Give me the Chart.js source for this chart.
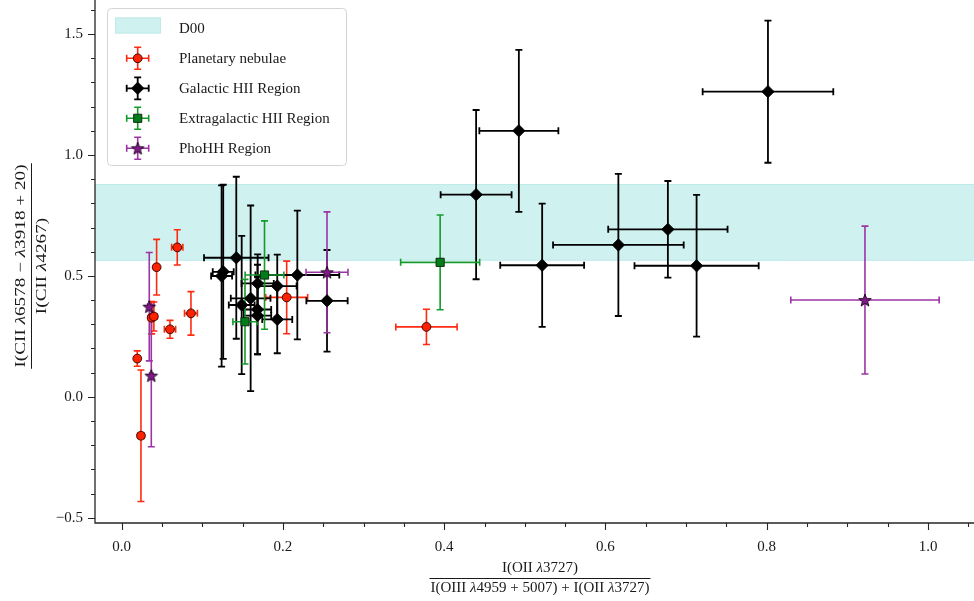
<!DOCTYPE html>
<html><head><meta charset="utf-8">
<script src="https://cdn.jsdelivr.net/npm/chart.js@4.4.0/dist/chart.umd.min.js"></script>
<style>html,body{margin:0;padding:0;background:#fff;overflow:hidden}#wrap{width:974px;height:601px;position:relative}</style>
</head><body><div id="wrap"><canvas id="c" width="974" height="601"></canvas></div>
<script>
// ---------------- data ----------------
const xTicks = [0.0, 0.2, 0.4, 0.6, 0.8, 1.0];
const xMinorTicks = [0.05, 0.1, 0.15, 0.25, 0.3, 0.35, 0.45, 0.5, 0.55, 0.65, 0.7, 0.75, 0.85, 0.9, 0.95, 1.05];
const yTicks = [-0.5, 0.0, 0.5, 1.0, 1.5];
const yMinorTicks = [-0.4, -0.3, -0.2, -0.1, 0.1, 0.2, 0.3, 0.4, 0.6, 0.7, 0.8, 0.9, 1.1, 1.2, 1.3, 1.4, 1.6];

const d00Band = [0.563, 0.88];

const pnX    = [0.378, 0.069, 0.0434, 0.0372, 0.040, 0.060, 0.086, 0.0194, 0.024, 0.2047];
const pnY    = [0.289, 0.618, 0.536, 0.327, 0.332, 0.279, 0.345, 0.158, -0.161, 0.411];
const pnXErr = [0.038, 0.007, 0.003, 0.004, 0.004, 0.007, 0.008, 0.003, 0.004, 0.026];
const pnYErr = [0.073, 0.073, 0.115, 0.067, 0.060, 0.037, 0.090, 0.032, 0.272, 0.150];

const ghX    = [0.4926, 0.4396, 0.8015, 0.5215, 0.616, 0.6774, 0.713, 0.1422, 0.126, 0.124, 0.1687, 0.193, 0.2179, 0.160, 0.1489, 0.1685, 0.1685, 0.193, 0.2547];
const ghY    = [1.100, 0.836, 1.262, 0.544, 0.628, 0.6925, 0.542, 0.575, 0.517, 0.4995, 0.469, 0.458, 0.5036, 0.407, 0.3796, 0.361, 0.336, 0.320, 0.397];
const ghXErr = [0.049, 0.044, 0.081, 0.052, 0.081, 0.074, 0.077, 0.040, 0.013, 0.013, 0.020, 0.024, 0.052, 0.0246, 0.016, 0.017, 0.017, 0.0186, 0.0256];
const ghYErr = [0.335, 0.350, 0.294, 0.255, 0.294, 0.200, 0.293, 0.335, 0.360, 0.375, 0.120, 0.130, 0.266, 0.384, 0.286, 0.185, 0.160, 0.140, 0.210];

const ehX    = [0.395, 0.1772, 0.153];
const ehY    = [0.556, 0.5036, 0.3105];
const ehXErr = [0.049, 0.024, 0.015];
const ehYErr = [0.196, 0.224, 0.175];

const phX    = [0.9218, 0.2547, 0.0343, 0.0368];
const phY    = [0.400, 0.5148, 0.3726, 0.0873];
const phXErr = [0.092, 0.026, 0.002, 0.002];
const phYErr = [0.306, 0.250, 0.224, 0.294];

const seriesNames = ['D00', 'Planetary nebulae', 'Galactic HII Region', 'Extragalactic HII Region', 'PhoHH Region'];

// ---------------- styles ----------------
const FONT = '"Liberation Serif", "Times New Roman", serif';
const AX = '#262626';
const BAND = '#cff1f0';
const BAND_EDGE = '#bfeaea';

function starCanvas(r, fill, stroke) {
  const s = Math.ceil(2 * r + 4);
  const c = document.createElement('canvas');
  c.width = c.height = s;
  const g = c.getContext('2d');
  g.beginPath();
  for (let i = 0; i < 10; i++) {
    const a = -Math.PI / 2 + i * Math.PI / 5;
    const rr = (i % 2) ? r * 0.42 : r;
    g.lineTo(s / 2 + rr * Math.cos(a), s / 2 + 0.6 + rr * Math.sin(a));
  }
  g.closePath();
  g.fillStyle = fill; g.fill();
  g.lineWidth = 0.9; g.strokeStyle = stroke; g.stroke();
  return c;
}
const starImg = starCanvas(6.6, '#7e1a86', '#1a001a');

const zip = (xs, ys) => xs.map((x, i) => ({x: x, y: ys[i]}));

const series = [
  {label: seriesNames[1], x: pnX, y: pnY, xe: pnXErr, ye: pnYErr, bar: '#ff2a12', lw: 1.6, cap: 3.5,
   point: {pointStyle: 'circle', radius: 4.4, backgroundColor: '#ff2200', borderColor: '#2a0000', borderWidth: 0.9}, order: 4},
  {label: seriesNames[2], x: ghX, y: ghY, xe: ghXErr, ye: ghYErr, bar: '#000000', lw: 1.8, cap: 3.5,
   point: {pointStyle: 'rectRot', radius: 6.2, backgroundColor: '#000000', borderColor: '#000000', borderWidth: 0.8}, order: 3},
  {label: seriesNames[3], x: ehX, y: ehY, xe: ehXErr, ye: ehYErr, bar: '#159a2c', lw: 1.6, cap: 3.5,
   point: {pointStyle: 'rect', radius: 5.8, backgroundColor: '#007d1a', borderColor: '#0a200a', borderWidth: 0.9}, order: 2},
  {label: seriesNames[4], x: phX, y: phY, xe: phXErr, ye: phYErr, bar: '#9c35a4', lw: 1.6, cap: 3.5,
   point: {pointStyle: starImg, radius: 6.6, backgroundColor: '#7e1a86', borderColor: '#1a001a', borderWidth: 0.9}, order: 1}
];

function drawErr(ctx, px, py, x0, x1, y0, y1, cap) {
  ctx.beginPath();
  ctx.moveTo(x0, py); ctx.lineTo(x1, py);
  ctx.moveTo(px, y0); ctx.lineTo(px, y1);
  ctx.stroke();
  ctx.beginPath();
  ctx.moveTo(x0, py - cap); ctx.lineTo(x0, py + cap);
  ctx.moveTo(x1, py - cap); ctx.lineTo(x1, py + cap);
  ctx.moveTo(px - cap, y0); ctx.lineTo(px + cap, y0);
  ctx.moveTo(px - cap, y1); ctx.lineTo(px + cap, y1);
  ctx.stroke();
}

function drawRich(ctx, parts, cx, y, size) {
  let w = 0;
  parts.forEach(p => { ctx.font = (p[1] ? 'italic ' : '') + size + 'px ' + FONT; w += ctx.measureText(p[0]).width; });
  let x = cx - w / 2;
  ctx.textAlign = 'left';
  ctx.textBaseline = 'alphabetic';
  parts.forEach(p => { ctx.font = (p[1] ? 'italic ' : '') + size + 'px ' + FONT; ctx.fillText(p[0], x, y); x += ctx.measureText(p[0]).width; });
  return w;
}

const xNum = [['I(OII ', 0], ['λ', 1], ['3727)', 0]];
const xDen = [['I(OIII ', 0], ['λ', 1], ['4959 + 5007) + I(OII ', 0], ['λ', 1], ['3727)', 0]];
const yNum = [['I(CII ', 0], ['λ', 1], ['6578 − ', 0], ['λ', 1], ['3918 + 20)', 0]];
const yDen = [['I(CII ', 0], ['λ', 1], ['4267)', 0]];

const plotPlugin = {
  id: 'plotExtras',
  beforeDatasetsDraw(chart) {
    const ctx = chart.ctx, a = chart.chartArea, xs = chart.scales.x, ys = chart.scales.y;
    const yt = ys.getPixelForValue(d00Band[1]), yb = ys.getPixelForValue(d00Band[0]);
    ctx.save();
    ctx.fillStyle = BAND;
    ctx.fillRect(a.left, yt, a.right - a.left, yb - yt);
    ctx.strokeStyle = BAND_EDGE; ctx.lineWidth = 1;
    ctx.beginPath(); ctx.moveTo(a.left, yt + 0.5); ctx.lineTo(a.right, yt + 0.5);
    ctx.moveTo(a.left, yb - 0.5); ctx.lineTo(a.right, yb - 0.5); ctx.stroke();
    ctx.beginPath(); ctx.rect(a.left, a.top, a.right - a.left, a.bottom - a.top); ctx.clip();
    series.forEach(s => {
      ctx.strokeStyle = s.bar; ctx.lineWidth = s.lw; ctx.lineCap = 'butt';
      s.x.forEach((xv, i) => {
        const yv = s.y[i];
        drawErr(ctx, xs.getPixelForValue(xv), ys.getPixelForValue(yv),
          xs.getPixelForValue(xv - s.xe[i]), xs.getPixelForValue(xv + s.xe[i]),
          ys.getPixelForValue(yv - s.ye[i]), ys.getPixelForValue(yv + s.ye[i]), s.cap);
      });
    });
    ctx.restore();
  },
  afterDraw(chart) {
    const ctx = chart.ctx, a = chart.chartArea, xs = chart.scales.x, ys = chart.scales.y;
    ctx.save();
    ctx.strokeStyle = AX; ctx.lineWidth = 1.3;
    ctx.beginPath();
    ctx.moveTo(a.left, a.top); ctx.lineTo(a.left, a.bottom);
    ctx.lineTo(a.right, a.bottom);
    ctx.stroke();
    ctx.lineWidth = 1.1;
    ctx.beginPath();
    xTicks.forEach(v => { const p = Math.round(xs.getPixelForValue(v)) + 0.5; ctx.moveTo(p, a.bottom); ctx.lineTo(p, a.bottom + 7); });
    xMinorTicks.forEach(v => { const p = Math.round(xs.getPixelForValue(v)) + 0.5; ctx.moveTo(p, a.bottom); ctx.lineTo(p, a.bottom + 4); });
    yTicks.forEach(v => { const p = Math.round(ys.getPixelForValue(v)) + 0.5; ctx.moveTo(a.left, p); ctx.lineTo(a.left - 7, p); });
    yMinorTicks.forEach(v => { const p = Math.round(ys.getPixelForValue(v)) + 0.5; ctx.moveTo(a.left, p); ctx.lineTo(a.left - 4, p); });
    ctx.stroke();

    // x title (fraction)
    ctx.fillStyle = '#1a1a1a';
    const xc = 540;
    drawRich(ctx, xNum, xc, 572, 15);
    const wd = drawRich(ctx, xDen, xc, 592, 15);
    ctx.strokeStyle = '#1a1a1a'; ctx.lineWidth = 1;
    ctx.beginPath(); ctx.moveTo(xc - wd / 2 - 1, 578.5); ctx.lineTo(xc + wd / 2 + 1, 578.5); ctx.stroke();

    // y title (fraction, rotated, elongated along the text as in the reference)
    ctx.save();
    ctx.translate(31.5, 266);
    ctx.rotate(-Math.PI / 2);
    ctx.scale(1.28, 1);
    const wn = drawRich(ctx, yNum, 0, -6.5, 15);
    drawRich(ctx, yDen, 0, 14.5, 15);
    ctx.lineWidth = 1;
    ctx.beginPath(); ctx.moveTo(-wn / 2 - 1, 0); ctx.lineTo(wn / 2 + 1, 0); ctx.stroke();
    ctx.restore();

    // legend
    const L = {x: 107.5, y: 8.5, w: 239, h: 157};
    ctx.fillStyle = 'rgba(255,255,255,0.85)';
    ctx.strokeStyle = '#d4d4d4'; ctx.lineWidth = 1;
    ctx.beginPath(); ctx.roundRect(L.x, L.y, L.w, L.h, 4); ctx.fill(); ctx.stroke();
    const rows = [28.3, 58.3, 88.3, 118.3, 148.3];
    const hx = 137.7;
    ctx.fillStyle = BAND; ctx.fillRect(115, 17.5, 46, 16);
    ctx.strokeStyle = BAND_EDGE; ctx.strokeRect(115.5, 18, 45, 15);
    series.forEach((s, k) => {
      const cy = rows[k + 1];
      ctx.strokeStyle = s.bar; ctx.lineWidth = s.lw;
      drawErr(ctx, hx, cy, hx - 11, hx + 11, cy + 11, cy - 11, 3.5);
      ctx.fillStyle = s.point.backgroundColor;
      ctx.strokeStyle = s.point.borderColor;
      ctx.lineWidth = s.point.borderWidth;
      Chart.helpers.drawPoint(ctx, {pointStyle: s.point.pointStyle, radius: s.point.radius, rotation: 0,
        borderWidth: s.point.borderWidth}, hx, cy);
    });
    ctx.fillStyle = '#1a1a1a';
    ctx.font = '15px ' + FONT; ctx.textAlign = 'left'; ctx.textBaseline = 'middle';
    seriesNames.forEach((n, k) => ctx.fillText(n, 179, rows[k] + 1));
    ctx.restore();
  }
};

const datasets = series.map(s => ({
  label: s.label,
  data: zip(s.x, s.y),
  order: s.order,
  pointStyle: s.point.pointStyle,
  pointRadius: s.point.radius,
  pointHoverRadius: s.point.radius,
  pointBackgroundColor: s.point.backgroundColor,
  pointBorderColor: s.point.borderColor,
  pointBorderWidth: s.point.borderWidth,
  showLine: false
}));

function noPad(sc) { sc.paddingTop = 0; sc.paddingBottom = 0; sc.paddingLeft = 0; sc.paddingRight = 0; }

const chart = new Chart(document.getElementById('c'), {
  type: 'scatter',
  data: {datasets: datasets},
  options: {
    responsive: false,
    animation: false,
    devicePixelRatio: 1,
    layout: {autoPadding: false, padding: {left: 0, right: 0, top: 0, bottom: 0}},
    plugins: {legend: {display: false}, tooltip: {enabled: false}},
    scales: {
      x: {
        type: 'linear', min: -0.033, max: 1.057,
        grid: {display: false, drawTicks: false},
        border: {display: false},
        afterBuildTicks: sc => { sc.ticks = xTicks.map(v => ({value: v})); },
        afterFit: sc => { sc.height = 78; noPad(sc); },
        ticks: {color: '#1a1a1a', padding: 15, font: {family: FONT, size: 15},
          callback: v => v.toFixed(1), maxRotation: 0, autoSkip: false}
      },
      y: {
        type: 'linear', min: -0.522, max: 1.641,
        grid: {display: false, drawTicks: false},
        border: {display: false},
        afterBuildTicks: sc => { sc.ticks = yTicks.map(v => ({value: v})); },
        afterFit: sc => { sc.width = 95; noPad(sc); },
        ticks: {color: '#1a1a1a', padding: 12, font: {family: FONT, size: 15},
          callback: v => (v < 0 ? '\u2212' + Math.abs(v).toFixed(1) : v.toFixed(1)), autoSkip: false}
      }
    }
  },
  plugins: [plotPlugin]
});
</script>
</body></html>
